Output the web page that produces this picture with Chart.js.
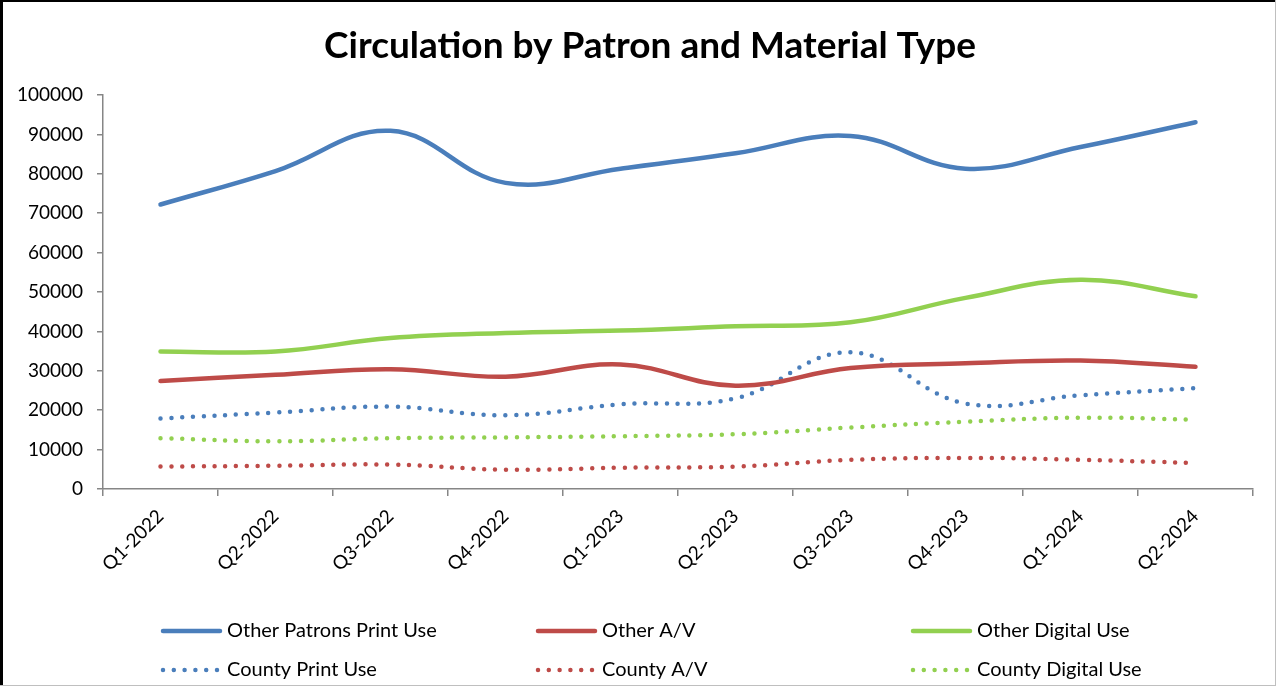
<!DOCTYPE html>
<html>
<head>
<meta charset="utf-8">
<script src="https://cdn.jsdelivr.net/npm/chart.js@4"></script>
<style>
  html, body { margin: 0; padding: 0; background: #fff; }
  #wrap { position: relative; width: 1276px; height: 686px; }
</style>
</head>
<body>
<div id="wrap"><canvas id="c" width="1276" height="686"></canvas></div>
<script>
const categories = ['Q1-2022','Q2-2022','Q3-2022','Q4-2022','Q1-2023','Q2-2023','Q3-2023','Q4-2023','Q1-2024','Q2-2024'];
const otherPrint   = [72200, 80700, 90900, 77700, 81300, 85200, 89600, 81300, 86800, 93100];
const otherAV      = [27400, 29000, 30400, 28500, 31600, 26200, 30700, 31900, 32600, 31000];
const otherDigital = [34900, 34900, 38300, 39600, 40200, 41300, 42300, 48500, 53100, 48900];
const countyPrint  = [17900, 19400, 20900, 18700, 21500, 23000, 34700, 21700, 23800, 25600];
const countyAV     = [5700, 5900, 6200, 4900, 5400, 5700, 7400, 7900, 7400, 6600];
const countyDigital= [12900, 12100, 12900, 13100, 13400, 13900, 15600, 17100, 18100, 17600];
const seriesNames = ['Other Patrons Print Use','Other A/V','Other Digital Use','County Print Use','County A/V','County Digital Use'];
const yTicks = [0,10000,20000,30000,40000,50000,60000,70000,80000,90000,100000];
const chartTitle = 'Circulation by Patron and Material Type';

const BLUE = '#4A7EBB', RED = '#BE4B48', GREEN = '#92D050';
const FONT = 'Lato, "Liberation Sans", sans-serif';
const DOT = [0, 10.8];

function ds(label, data, color, dotted) {
  return {
    label, data,
    borderColor: color, backgroundColor: color,
    borderWidth: 4.5,
    borderDash: dotted ? DOT : [],
    borderCapStyle: 'round',
    borderJoinStyle: 'round',
    pointRadius: 0, pointHoverRadius: 0,
    tension: 0.4, fill: false
  };
}

const bgBorder = {
  id: 'bgBorder',
  beforeDraw(chart) {
    const ctx = chart.ctx;
    ctx.save();
    ctx.fillStyle = '#fff';
    ctx.fillRect(0, 0, chart.width, chart.height);
    ctx.restore();
  },
  afterDraw(chart) {
    const ctx = chart.ctx, w = chart.width, h = chart.height;
    ctx.save();
    ctx.fillStyle = '#000';
    ctx.fillRect(0, 0, w, 2);
    ctx.fillRect(0, 0, 3, h);
    ctx.fillStyle = '#bfbfbf';
    ctx.fillRect(w - 1, 0, 1, h);
    ctx.fillRect(0, h - 1, w, 1);
    ctx.restore();
  }
};

const titleText = {
  id: 'titleText',
  afterDraw(chart) {
    const ctx = chart.ctx;
    ctx.save();
    ctx.fillStyle = '#000';
    ctx.font = 'bold 37px ' + FONT;
    ctx.textAlign = 'center';
    ctx.textBaseline = 'middle';
    ctx.fillText(chartTitle, 650, 46);
    ctx.restore();
  }
};

const gridLegend = {
  id: 'gridLegend',
  afterDraw(chart) {
    const ctx = chart.ctx;
    const colX = [163, 538, 913];
    const rowY = [631, 670];
    ctx.save();
    chart.data.datasets.forEach((d, i) => {
      const x0 = colX[i % 3], y = rowY[Math.floor(i / 3)];
      ctx.beginPath();
      ctx.strokeStyle = d.borderColor;
      ctx.lineWidth = d.borderWidth;
      ctx.lineCap = 'round';
      ctx.setLineDash(d.borderDash || []);
      ctx.moveTo(x0, y);
      ctx.lineTo(x0 + 57, y);
      ctx.stroke();
      ctx.setLineDash([]);
      ctx.fillStyle = '#000';
      ctx.font = '20px ' + FONT;
      ctx.textAlign = 'left';
      ctx.textBaseline = 'middle';
      ctx.fillText(d.label, x0 + 64, y);
    });
    ctx.restore();
  }
};

new Chart(document.getElementById('c'), {
  type: 'line',
  data: {
    labels: categories,
    datasets: [
      ds(seriesNames[0], otherPrint, BLUE, false),
      ds(seriesNames[1], otherAV, RED, false),
      ds(seriesNames[2], otherDigital, GREEN, false),
      ds(seriesNames[3], countyPrint, BLUE, true),
      ds(seriesNames[4], countyAV, RED, true),
      ds(seriesNames[5], countyDigital, GREEN, true)
    ]
  },
  options: {
    responsive: false,
    animation: false,
    layout: { padding: { left: 0, right: 23, top: 95, bottom: 107 } },
    plugins: {
      legend: { display: false },
      tooltip: { enabled: false },
      title: { display: false }
    },
    scales: {
      x: {
        offset: true,
        grid: { display: true, drawOnChartArea: false, offset: true, tickLength: 7, color: '#868686', lineWidth: 1.5 },
        border: { display: true, color: '#868686', width: 1.5 },
        ticks: {
          color: '#000', font: { family: FONT, size: 19 },
          maxRotation: 45, minRotation: 45, padding: 9, autoSkip: false
        },
        afterFit(scale) { scale.height = 90; }
      },
      y: {
        min: 0, max: 100000,
        afterBuildTicks(scale) { scale.ticks = yTicks.map(v => ({ value: v })); },
        grid: { display: true, drawOnChartArea: false, tickLength: 6, color: '#868686', lineWidth: 1.5 },
        border: { display: true, color: '#868686', width: 1.5 },
        ticks: {
          color: '#000', font: { family: FONT, size: 19 }, padding: 14,
          callback: v => String(v)
        },
        afterFit(scale) { scale.width = 103; }
      }
    }
  },
  plugins: [bgBorder, titleText, gridLegend]
});
</script>
</body>
</html>
